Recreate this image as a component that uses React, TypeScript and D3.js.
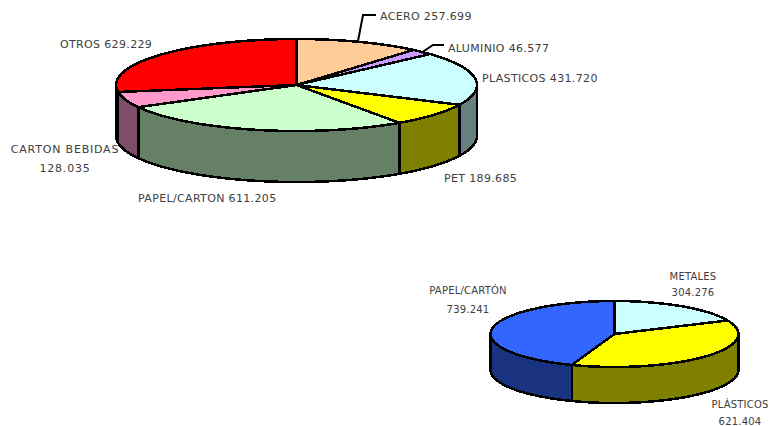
import React from 'react';
import * as d3 from 'd3';

const wasteCategories = ['ACERO', 'ALUMINIO', 'PLASTICOS', 'PET', 'PAPEL/CARTON', 'CARTON BEBIDAS', 'OTROS'];
const wasteValues = [257699, 46577, 431720, 189685, 611205, 128035, 629229];
const wasteTopColors = ['#ffcc99', '#cc99ff', '#ccffff', '#ffff00', '#ccffcc', '#ff99cc', '#ff0000'];
const wasteSideColors = ['#806650', '#664d80', '#668080', '#808000', '#668066', '#804d66', '#000000'];

const recycledCategories = ['METALES', 'PLÁSTICOS', 'PAPEL/CARTÓN'];
const recycledValues = [304276, 621404, 739241];
const recycledTopColors = ['#ccffff', '#ffff00', '#3366ff'];
const recycledSideColors = ['#668080', '#808000', '#193380'];

const fmt = (v: number) => d3.format(',')(v).replace(/,/g, '.');
const TAU = Math.PI * 2;

type PieProps = {
  values: number[];
  top: string[];
  side: string[];
  cx: number;
  cy: number;
  rx: number;
  ry: number;
  depth: number;
};

function Pie3D({ values, top, side, cx, cy, rx, ry, depth }: PieProps) {
  const arcs = d3.pie<number>().sort(null).startAngle(0).endAngle(TAU)(values);
  const sx = d3.scaleLinear().domain([-1, 1]).range([cx - rx, cx + rx]);
  const sy = d3.scaleLinear().domain([-1, 1]).range([cy - ry, cy + ry]);
  const line = d3.line<[number, number]>();

  const rim = (a0: number, a1: number, dy: number) => {
    const n = Math.max(2, Math.ceil((a1 - a0) / 0.02));
    return d3.range(n + 1).map((i): [number, number] => {
      const a = a0 + ((a1 - a0) * i) / n;
      return [sx(Math.sin(a)), sy(-Math.cos(a)) + dy];
    });
  };

  return (
    <g stroke="#000" strokeWidth={2.5} strokeLinejoin="round" shapeRendering="crispEdges">
      {arcs.map((d, i) => {
        // only the front half of the cylinder wall can be seen
        const a0 = Math.max(d.startAngle, Math.PI / 2);
        const a1 = Math.min(d.endAngle, (Math.PI * 3) / 2);
        if (a1 <= a0) return null;
        const pts = [...rim(a0, a1, 0), ...rim(a0, a1, depth).reverse()];
        return <path key={'s' + i} d={line(pts) + 'Z'} fill={side[i]} />;
      })}
      {arcs.map((d, i) => {
        const pts: [number, number][] = [[cx, cy], ...rim(d.startAngle, d.endAngle, 0)];
        return <path key={'t' + i} d={line(pts) + 'Z'} fill={top[i]} />;
      })}
    </g>
  );
}

const Label = ({ x, y, lines, size = 11, anchor = 'start', gap = 18, spacing = 0.35 }: any) => (
  <text x={x} y={y} fontSize={size} letterSpacing={spacing} fontFamily="DejaVu Sans" fill="#404040" textAnchor={anchor}>
    {lines.map((t: string, i: number) => (
      <tspan key={i} x={x} dy={i ? gap : 0}>{t}</tspan>
    ))}
  </text>
);

const wl = (i: number) => `${wasteCategories[i]} ${fmt(wasteValues[i])}`;

export default function App() {
  return (
    <svg width={772} height={426} style={{ position: 'absolute', left: 0, top: 0, background: '#fff' }}>
      <Pie3D values={wasteValues} top={wasteTopColors} side={wasteSideColors} cx={296.5} cy={85} rx={180.5} ry={46} depth={51} />
      <Pie3D values={recycledValues} top={recycledTopColors} side={recycledSideColors} cx={614.5} cy={334} rx={124} ry={33} depth={36} />

      <path d={d3.line()([[358, 41], [363, 15], [376, 15]]) ?? ''} fill="none" stroke="#000" strokeWidth={2} />
      <path d={d3.line()([[421, 53], [433, 45], [444, 45]]) ?? ''} fill="none" stroke="#000" strokeWidth={2} />

      <Label x={380} y={20} lines={[wl(0)]} />
      <Label x={448} y={52} lines={[wl(1)]} />
      <Label x={482} y={82} lines={[wl(2)]} />
      <Label x={444} y={182} lines={[wl(3)]} />
      <Label x={138} y={202} lines={[wl(4)]} />
      <Label x={65} y={153} anchor="middle" spacing={0.8} lines={[wasteCategories[5], fmt(wasteValues[5])]} gap={19} />
      <Label x={60} y={48} lines={[wl(6)]} />

      <Label x={693} y={280} size={10} spacing={0.2} anchor="middle" lines={[recycledCategories[0], fmt(recycledValues[0])]} gap={16} />
      <Label x={740} y={408} size={10} spacing={0.2} anchor="middle" lines={[recycledCategories[1], fmt(recycledValues[1])]} gap={17} />
      <Label x={468} y={294} size={10} spacing={0.2} anchor="middle" lines={[recycledCategories[2], fmt(recycledValues[2])]} gap={19} />
    </svg>
  );
}
